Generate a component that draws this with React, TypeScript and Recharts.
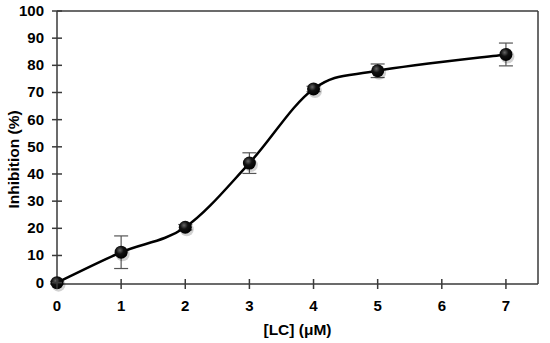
import React from 'react';
import { LineChart, Line, XAxis, YAxis, ErrorBar, ReferenceLine } from 'recharts';

const concentrations = [0, 1, 2, 3, 4, 5, 7];
const inhibition = [0, 11.2, 20.4, 44, 71.3, 78, 84];
const errors = [0.5, 6, 1, 3.8, 1, 2.5, 4.2];
const xTicks = [0, 1, 2, 3, 4, 5, 6, 7];
const yTicks = [0, 10, 20, 30, 40, 50, 60, 70, 80, 90, 100];

const data = concentrations.map((c, i) => ({ x: c, y: inhibition[i], err: errors[i] }));

const FONT = '"Liberation Sans", Arial, sans-serif';
const AXIS = '#3a3a3a';

// Catmull-Rom style smoothing (similar to spreadsheet "smoothed line")
const smoothCurve = (context: any) => {
  let pts: number[][] = [];
  return {
    areaStart() {},
    areaEnd() {},
    lineStart() {
      pts = [];
    },
    point(x: number, y: number) {
      pts.push([+x, +y]);
    },
    lineEnd() {
      const n = pts.length;
      if (!n) return;
      context.moveTo(pts[0][0], pts[0][1]);
      for (let i = 0; i < n - 1; i++) {
        const p0 = pts[Math.max(i - 1, 0)];
        const p1 = pts[i];
        const p2 = pts[i + 1];
        const p3 = pts[Math.min(i + 2, n - 1)];
        context.bezierCurveTo(
          p1[0] + (p2[0] - p0[0]) / 6,
          p1[1] + (p2[1] - p0[1]) / 6,
          p2[0] - (p3[0] - p1[0]) / 6,
          p2[1] - (p3[1] - p1[1]) / 6,
          p2[0],
          p2[1]
        );
      }
    },
  };
};

const YTick = (props: any) => {
  const { x, y, payload } = props;
  return (
    <g>
      <line x1={x - 5} x2={x + 5} y1={y} y2={y} stroke={AXIS} strokeWidth={1.5} />
      <text x={x - 13} y={y + 5} textAnchor="end" fontFamily={FONT} fontWeight="bold" fontSize={15} fill="#000">
        {payload.value}
      </text>
    </g>
  );
};

const XTick = (props: any) => {
  const { x, y, payload } = props;
  return (
    <g>
      <line x1={x} x2={x} y1={y - 5} y2={y + 5} stroke={AXIS} strokeWidth={1.5} />
      <text x={x} y={y + 27} textAnchor="middle" fontFamily={FONT} fontWeight="bold" fontSize={15} fill="#000">
        {payload.value}
      </text>
    </g>
  );
};

const YLabel = (props: any) => {
  const { viewBox } = props;
  const cx = viewBox.x + 19;
  const cy = viewBox.y + viewBox.height / 2 + 12;
  return (
    <text
      x={cx}
      y={cy}
      transform={`rotate(-90 ${cx} ${cy})`}
      textAnchor="middle"
      fontFamily={FONT}
      fontWeight="bold"
      fontSize={15.5}
      fill="#000"
    >
      Inhibition (%)
    </text>
  );
};

const Dot = (props: any) => {
  const { cx, cy, index } = props;
  const id = `g${index}`;
  return (
    <g key={id}>
      <defs>
        <radialGradient id={id} cx="40%" cy="35%" r="65%">
          <stop offset="0%" stopColor="#666" />
          <stop offset="45%" stopColor="#111" />
          <stop offset="100%" stopColor="#000" />
        </radialGradient>
      </defs>
      <circle cx={cx + 1.5} cy={cy + 2} r={7} fill="#000" opacity={0.18} />
      <circle cx={cx} cy={cy} r={6.5} fill={`url(#${id})`} />
    </g>
  );
};

export default function App() {
  return (
    <div style={{ position: 'absolute', left: 0, top: 0, background: '#fff' }}>
      <LineChart width={550} height={343} data={data} margin={{ top: 11, right: 12, bottom: 0, left: 0 }}>
        <XAxis
          type="number"
          dataKey="x"
          domain={[0, 7.5]}
          ticks={xTicks}
          height={59}
          tickSize={0}
          tickMargin={0}
          tickLine={false}
          tick={<XTick />}
          axisLine={{ stroke: AXIS, strokeWidth: 1.5 }}
          label={{
            value: '[LC] (μM)',
            position: 'insideBottom',
            offset: 8,
            style: { fontFamily: FONT, fontWeight: 'bold', fontSize: 15.5, fill: '#000' },
          }}
        />
        <YAxis
          domain={[0, 100]}
          ticks={yTicks}
          width={57}
          tickSize={0}
          tickMargin={0}
          tickLine={false}
          tick={<YTick />}
          axisLine={{ stroke: AXIS, strokeWidth: 1.5 }}
          label={<YLabel />}
        />
        <ReferenceLine y={100} stroke={AXIS} strokeWidth={1.5} ifOverflow="extendDomain" />
        <ReferenceLine x={7.5} stroke={AXIS} strokeWidth={1.5} ifOverflow="extendDomain" />
        <Line
          type={smoothCurve as any}
          dataKey="y"
          stroke="#000"
          strokeWidth={2.5}
          dot={<Dot />}
          activeDot={false}
          isAnimationActive={false}
        >
          <ErrorBar dataKey="err" width={7} stroke="#555" strokeWidth={1.2} direction="y" />
        </Line>
      </LineChart>
    </div>
  );
}
